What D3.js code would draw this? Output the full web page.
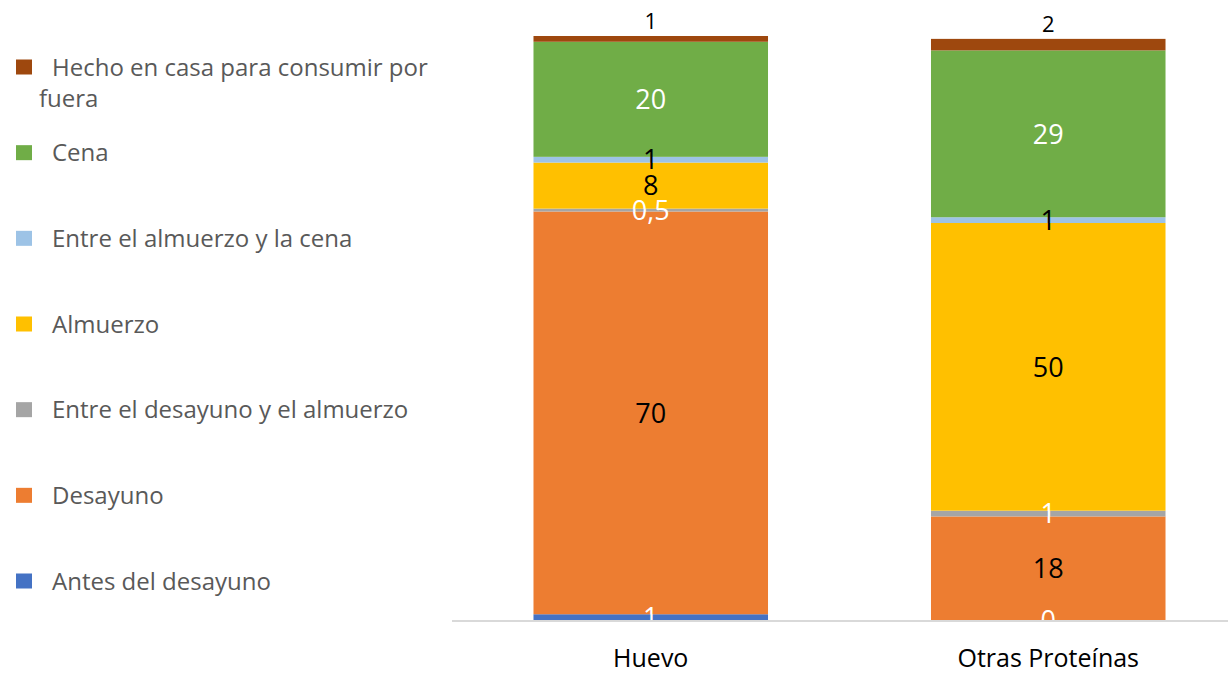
<!DOCTYPE html>
<html>
<head>
<meta charset="utf-8">
<script src="https://cdn.jsdelivr.net/npm/d3@7"></script>
<style>
  body { margin: 0; background: #fff; }
  svg { display: block; font-family: "Open Sans", sans-serif; }
</style>
</head>
<body>
<svg width="1228" height="673"></svg>
<script>
// categorias y series (de abajo hacia arriba en la pila)
const categories = ["Huevo", "Otras Proteínas"];
const seriesNames = [
    "Antes del desayuno",
    "Desayuno",
    "Entre el desayuno y el almuerzo",
    "Almuerzo",
    "Entre el almuerzo y la cena",
    "Cena",
    "Hecho en casa para consumir por fuera"
];
const huevoValues = [1, 70, 0.5, 8, 1, 20, 1];
const otrasValues = [0, 18, 1, 50, 1, 29, 2];

const seriesColors = ["#4472C4", "#ED7D31", "#A5A5A5", "#FFC000", "#9DC3E6", "#70AD47", "#9E480E"];
const labelColors = ["#fff", "#000", "#fff", "#000", "#000", "#fff", "#000"];

const svg = d3.select("svg");
const width = 1228;
const baseY = 620;

const rows = categories.map((c, i) => {
    const vals = i === 0 ? huevoValues : otrasValues;
    const r = { cat: c };
    seriesNames.forEach((s, j) => r[s] = vals[j]);
    return r;
});

const stack = d3.stack().keys(seriesNames);
const layers = stack(rows);

const x = d3.scaleBand()
    .domain(categories)
    .range([452, 1247])
    .paddingInner(0.41)
    .paddingOuter(0.205);

const y = d3.scaleLinear()
    .domain([0, 101.5])
    .range([baseY, 36]);

const fmt = d3.formatLocale({ decimal: ",", thousands: ".", grouping: [3], currency: ["", ""] }).format("~g");

// barras
const layerG = svg.append("g")
    .selectAll("g")
    .data(layers)
    .enter()
    .append("g")
    .attr("fill", (d, i) => seriesColors[i]);

layerG.selectAll("rect")
    .data(d => d)
    .enter()
    .append("rect")
    .attr("x", d => x(d.data.cat))
    .attr("y", d => y(d[1]))
    .attr("width", x.bandwidth())
    .attr("height", d => y(d[0]) - y(d[1]));

// eje x
svg.append("line")
    .attr("x1", 452)
    .attr("x2", width)
    .attr("y1", baseY + 1)
    .attr("y2", baseY + 1)
    .attr("stroke", "#d9d9d9")
    .attr("stroke-width", 2);

svg.append("g")
    .selectAll("text")
    .data(categories)
    .enter()
    .append("text")
    .attr("x", d => x(d) + x.bandwidth() / 2)
    .attr("y", 667)
    .attr("text-anchor", "middle")
    .attr("font-size", 25)
    .attr("fill", "#000")
    .text(d => d);

// etiquetas de datos (recortadas al area del grafico)
svg.append("defs").append("clipPath")
    .attr("id", "plotClip")
    .append("rect")
    .attr("x", 0).attr("y", 0)
    .attr("width", width).attr("height", baseY);

const labelG = svg.append("g").attr("clip-path", "url(#plotClip)");
const last = layers.length - 1;

layers.forEach((layer, i) => {
    labelG.selectAll(null)
        .data(layer)
        .enter()
        .append("text")
        .attr("x", d => x(d.data.cat) + x.bandwidth() / 2)
        .attr("y", d => i === last ? y(d[1]) - 7 : (y(d[0]) + y(d[1])) / 2)
        .attr("dy", i === last ? 0 : "0.36em")
        .attr("text-anchor", "middle")
        .attr("font-size", i === last ? 22 : 27)
        .attr("fill", labelColors[i])
        .text(d => fmt(d[1] - d[0]));
});

// leyenda (orden inverso)
const legendNames = seriesNames.slice().reverse();
const ly = d3.scalePoint().domain(legendNames).range([67, 581]);

const legend = svg.append("g")
    .selectAll("g")
    .data(legendNames)
    .enter()
    .append("g")
    .attr("transform", d => `translate(0,${ly(d)})`);

legend.append("rect")
    .attr("x", 16)
    .attr("y", -7.5)
    .attr("width", 16)
    .attr("height", 15)
    .attr("fill", d => seriesColors[seriesNames.indexOf(d)]);

legend.each(function (d) {
    const g = d3.select(this);
    const t = g.append("text")
        .attr("font-size", 24)
        .attr("fill", "#595959");
    if (d === "Hecho en casa para consumir por fuera") {
        t.append("tspan").attr("x", 52).attr("y", 0).attr("dy", "0.36em").text("Hecho en casa para consumir por");
        t.append("tspan").attr("x", 39).attr("y", 31).attr("dy", "0.36em").text("fuera");
    } else {
        t.attr("x", 52).attr("dy", "0.36em").text(d);
    }
});
</script>
</body>
</html>
